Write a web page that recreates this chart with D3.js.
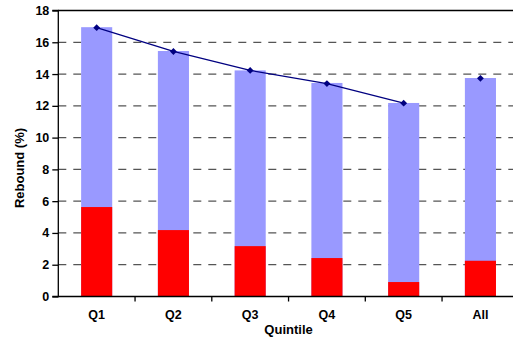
<!DOCTYPE html>
<html>
<head>
<meta charset="utf-8">
<script src="https://cdn.jsdelivr.net/npm/d3@7"></script>
<style>
html,body{margin:0;padding:0;background:#fff;overflow:hidden;}
svg{display:block;}
text{font-family:"Liberation Sans",Arial,sans-serif;font-weight:bold;fill:#000;}
</style>
</head>
<body>
<svg id="chart" width="513" height="341"></svg>
<script>
const categories = ["Q1","Q2","Q3","Q4","Q5","All"];
const totalValues = [16.95, 15.45, 14.23, 13.44, 12.18, 13.75];
const redValues = [5.63, 4.18, 3.17, 2.42, 0.91, 2.25];
const lineValues = [16.92, 15.42, 14.23, 13.40, 12.17, 13.73];
const lineCategories = ["Q1","Q2","Q3","Q4","Q5"];
const yTicks = [0,2,4,6,8,10,12,14,16,18];

const svg = d3.select("#chart");
const mLeft = 58.3, mRight = 518.8, mTop = 10.5, mBottom = 296.5;

const x = d3.scaleBand().domain(categories).range([mLeft, mRight]).paddingInner(0.595).paddingOuter(0.2975);
const xb = d3.scaleBand().domain(categories).range([mLeft, mRight]);
const y = d3.scaleLinear().domain([0,18]).range([mBottom, mTop]);

// gridlines
svg.append("g").selectAll("line").data(yTicks.filter(d => d > 0 && d < 18)).join("line")
  .attr("x1", mLeft).attr("x2", mRight)
  .attr("y1", d => y(d)).attr("y2", d => y(d))
  .attr("stroke", "#555").attr("stroke-width", 1.3)
  .attr("stroke-dasharray", "8,7");

// top border
svg.append("line").attr("x1", mLeft).attr("x2", mRight).attr("y1", y(18)).attr("y2", y(18))
  .attr("stroke", "#000").attr("stroke-width", 1.3);

// bars
svg.append("g").selectAll("rect").data(categories).join("rect")
  .attr("x", d => x(d)).attr("width", x.bandwidth())
  .attr("y", (d,i) => y(totalValues[i])).attr("height", (d,i) => y(0) - y(totalValues[i]))
  .attr("fill", "#9999FF");
svg.append("g").selectAll("rect").data(categories).join("rect")
  .attr("x", d => x(d)).attr("width", x.bandwidth())
  .attr("y", (d,i) => y(redValues[i])).attr("height", (d,i) => y(0) - y(redValues[i]))
  .attr("fill", "#FF0000");

// line
const cx = d => x(d) + x.bandwidth()/2;
svg.append("path")
  .datum(lineCategories)
  .attr("d", d3.line().x(d => cx(d)).y((d,i) => y(lineValues[i])))
  .attr("fill", "none").attr("stroke", "#000080").attr("stroke-width", 1.3);
svg.append("g").selectAll("path").data(categories).join("path")
  .attr("d", d3.symbol().type(d3.symbolDiamond2).size(30))
  .attr("transform", (d,i) => `translate(${cx(d)},${y(lineValues[i])})`)
  .attr("fill", "#000080");

// y axis
const yAxis = d3.axisLeft(y).tickValues(yTicks).tickSize(6).tickPadding(3);
const gy = svg.append("g").attr("transform", `translate(${mLeft},0)`).call(yAxis);
gy.select(".domain").attr("stroke", "#000").attr("stroke-width", 1.3).attr("d", `M-6,${mBottom}H0V${mTop}H-6`);
gy.selectAll(".tick line").attr("stroke", "#000").attr("stroke-width", 1.3);
gy.selectAll(".tick text").style("font-size", "12.5px").style("font-family", "Liberation Sans, Arial, sans-serif").style("font-weight", "bold").attr("fill", "#000");

// x axis
const xAxis = d3.axisBottom(xb).tickSize(0).tickPadding(14);
const gx = svg.append("g").attr("transform", `translate(0,${mBottom})`).call(xAxis);
gx.select(".domain").attr("stroke", "#000").attr("stroke-width", 1.3).attr("d", `M${mLeft},0H${mRight}`);
gx.selectAll(".tick text").style("font-size", "12.5px").style("font-family", "Liberation Sans, Arial, sans-serif").style("font-weight", "bold").attr("fill", "#000");
// x ticks at category boundaries
svg.append("g").selectAll("line").data(categories.slice(1)).join("line")
  .attr("x1", d => xb(d)).attr("x2", d => xb(d))
  .attr("y1", mBottom).attr("y2", mBottom + 5)
  .attr("stroke", "#000").attr("stroke-width", 1.3);

// titles
svg.append("text").attr("x", (mLeft + mRight)/2).attr("y", 334)
  .attr("text-anchor", "middle").style("font-size", "13px").text("Quintile");
svg.append("text").attr("transform", "translate(23.5,168) rotate(-90)")
  .attr("text-anchor", "middle").style("font-size", "13px").text("Rebound (%)");
</script>
</body>
</html>
